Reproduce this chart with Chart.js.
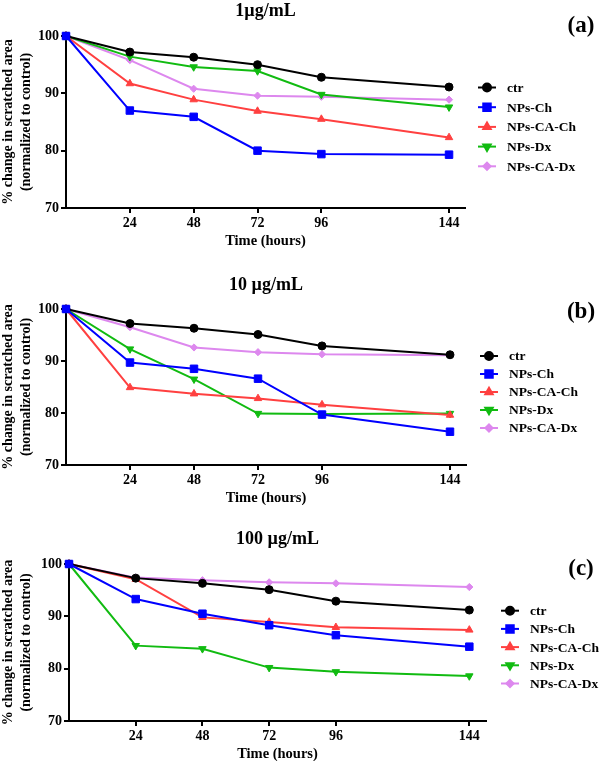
<!DOCTYPE html>
<html>
<head>
<meta charset="utf-8">
<script src="https://cdn.jsdelivr.net/npm/chart.js@4"></script>
<style>
  html, body { margin: 0; padding: 0; background: #fff; }
  #wrap { position: relative; width: 602px; height: 761px; overflow: hidden; }
  canvas { position: absolute; left: 0; }
</style>
</head>
<body>
<div id="wrap">
  <canvas id="panelA" width="602" height="250" style="top:0px"></canvas>
  <canvas id="panelB" width="602" height="255" style="top:250px"></canvas>
  <canvas id="panelC" width="602" height="256" style="top:505px"></canvas>
</div>
<script>
// 시간(시간 단위), 눈금
const hours = [0, 24, 48, 72, 96, 144];
const xTickHours = [24, 48, 72, 96, 144];
const yTickValues = [70, 80, 90, 100];
const seriesNames = ["ctr", "NPs-Ch", "NPs-CA-Ch", "NPs-Dx", "NPs-CA-Dx"];
const panelTitles = ["1µg/mL", "10 µg/mL", "100 µg/mL"];
const panelLabels = ["(a)", "(b)", "(c)"];

// (a) 1 µg/mL
const ctrA   = [100, 97.2, 96.3, 95.0, 92.8, 91.1];
const chA    = [100, 87.0, 85.9, 80.0, 79.4, 79.3];
const caChA  = [100, 91.7, 88.9, 86.9, 85.5, 82.3];
const dxA    = [100, 96.4, 94.6, 93.9, 89.8, 87.6];
const caDxA  = [100, 95.8, 90.8, 89.6, 89.4, 88.9];

// (b) 10 µg/mL
const ctrB   = [100, 97.2, 96.3, 95.1, 92.9, 91.2];
const chB    = [100, 89.7, 88.5, 86.6, 79.7, 76.4];
const caChB  = [100, 84.9, 83.7, 82.8, 81.6, 79.6];
const dxB    = [100, 92.3, 86.5, 79.9, 79.8, 79.9];
const caDxB  = [100, 96.5, 92.6, 91.7, 91.3, 91.1];

// (c) 100 µg/mL
const ctrC   = [100, 97.3, 96.3, 95.1, 92.9, 91.2];
const chC    = [100, 93.3, 90.5, 88.3, 86.4, 84.2];
const caChC  = [100, 97.1, 89.8, 88.9, 87.9, 87.4];
const dxC    = [100, 84.4, 83.8, 80.2, 79.4, 78.6];
const caDxC  = [100, 97.4, 96.9, 96.5, 96.3, 95.6];

const FONT = "'Liberation Serif', 'Times New Roman', serif";

// 시리즈 스타일
const styles = [
  { color: "#000000", pointStyle: "circle",   rotation: 0,   radius: 4,   order: 1 },
  { color: "#0000FF", pointStyle: "rect",     rotation: 0,   radius: 5.3, order: 0 },
  { color: "#FF4040", pointStyle: "triangle", rotation: 0,   radius: 4.3, order: 2 },
  { color: "#11BB11", pointStyle: "triangle", rotation: 180, radius: 4.3, order: 3 },
  { color: "#DD88EE", pointStyle: "rectRot",  rotation: 0,   radius: 3.6, order: 4 }
];

// 제목, 패널 라벨, 범례 그리기
const panelDecor = {
  id: "panelDecor",
  afterDraw(chart, args, opts) {
    const ctx = chart.ctx;
    const area = chart.chartArea;
    ctx.save();
    ctx.fillStyle = "#000";
    ctx.textBaseline = "middle";
    ctx.textAlign = "center";
    ctx.font = "bold 18px " + FONT;
    ctx.fillText(opts.title, (area.left + area.right) / 2, opts.titleY);
    ctx.font = "bold 23px " + FONT;
    ctx.fillText(opts.label, 581, opts.labelY);

    ctx.textAlign = "left";
    ctx.font = "bold 13.5px " + FONT;
    chart.data.datasets.forEach((ds, i) => {
      const y = opts.legendTop + i * opts.legendStep;
      const mx = area.right + opts.legendMarkerDx;
      ctx.strokeStyle = ds.borderColor;
      ctx.fillStyle = ds.borderColor;
      ctx.lineWidth = 2;
      ctx.beginPath();
      ctx.moveTo(mx - 9, y);
      ctx.lineTo(mx + 9, y);
      ctx.stroke();
      Chart.helpers.drawPoint(ctx, {
        pointStyle: ds.pointStyle,
        rotation: ds.pointRotation,
        radius: ds.pointRadius,
        borderWidth: 1
      }, mx, y);
      ctx.fillStyle = "#000";
      ctx.fillText(ds.label, area.right + opts.legendTextDx, y + 1);
    });
    ctx.restore();
  }
};

function makePanel(id, seriesValues, idx, geo) {
  const datasets = seriesValues.map((vals, i) => ({
    label: seriesNames[i],
    data: hours.map((h, j) => ({ x: h, y: vals[j] })),
    borderColor: styles[i].color,
    backgroundColor: styles[i].color,
    borderWidth: 2,
    pointStyle: styles[i].pointStyle,
    pointRotation: styles[i].rotation,
    pointRadius: styles[i].radius,
    pointBorderWidth: 1,
    tension: 0,
    clip: false,
    order: styles[i].order
  }));

  new Chart(document.getElementById(id), {
    type: "line",
    data: { datasets },
    plugins: [panelDecor],
    options: {
      responsive: false,
      animation: false,
      events: [],
      layout: {
        padding: { left: 0, right: 602 - geo.right, top: geo.top, bottom: geo.padBottom }
      },
      plugins: {
        legend: { display: false },
        title: { display: false },
        tooltip: { enabled: false },
        panelDecor: {
          title: panelTitles[idx],
          label: panelLabels[idx],
          titleY: geo.titleY,
          labelY: geo.labelY,
          legendTop: geo.legendTop,
          legendStep: geo.legendStep,
          legendMarkerDx: geo.legendMarkerDx,
          legendTextDx: geo.legendTextDx
        }
      },
      scales: {
        x: {
          type: "linear",
          min: 0,
          max: 150,
          afterBuildTicks: s => { s.ticks = xTickHours.map(v => ({ value: v })); },
          afterFit: s => { s.height = geo.xHeight; },
          grid: { drawOnChartArea: false, drawTicks: true, tickLength: 5, color: "#000", lineWidth: 2 },
          border: { display: true, color: "#000", width: 2 },
          ticks: { color: "#000", font: { family: FONT, size: 14, weight: "bold" }, padding: 2, maxRotation: 0, autoSkip: false },
          title: {
            display: true,
            text: "Time (hours)",
            color: "#000",
            font: { family: FONT, size: 14.5, weight: "bold", lineHeight: 1.0 },
            padding: { top: 0, bottom: 0 }
          }
        },
        y: {
          min: 70,
          max: 100,
          afterBuildTicks: s => { s.ticks = yTickValues.map(v => ({ value: v })); },
          afterFit: s => { s.width = geo.left; },
          grid: { drawOnChartArea: false, drawTicks: true, tickLength: 5, color: "#000", lineWidth: 2 },
          border: { display: true, color: "#000", width: 2 },
          ticks: { color: "#000", font: { family: FONT, size: 14, weight: "bold" }, padding: 2 },
          title: {
            display: true,
            text: ["% change in scratched area", "(normalized to control)"],
            color: "#000",
            font: { family: FONT, size: 14, weight: "bold", lineHeight: 1.25 },
            padding: { top: 0, bottom: 0 }
          }
        }
      }
    }
  });
}

makePanel("panelA", [ctrA, chA, caChA, dxA, caDxA], 0, {
  left: 66, right: 465, top: 36, padBottom: 2, xHeight: 40,
  titleY: 11, labelY: 26,
  legendTop: 87.5, legendStep: 19.7, legendMarkerDx: 22, legendTextDx: 42
});
makePanel("panelB", [ctrB, chB, caChB, dxB, caDxB], 1, {
  left: 66, right: 466, top: 59, padBottom: 0, xHeight: 40,
  titleY: 35, labelY: 62,
  legendTop: 106, legendStep: 18, legendMarkerDx: 23, legendTextDx: 43
});
makePanel("panelC", [ctrC, chC, caChC, dxC, caDxC], 2, {
  left: 69, right: 486, top: 59, padBottom: 0, xHeight: 40,
  titleY: 34, labelY: 64,
  legendTop: 105.7, legendStep: 18.2, legendMarkerDx: 24, legendTextDx: 44
});
</script>
</body>
</html>
